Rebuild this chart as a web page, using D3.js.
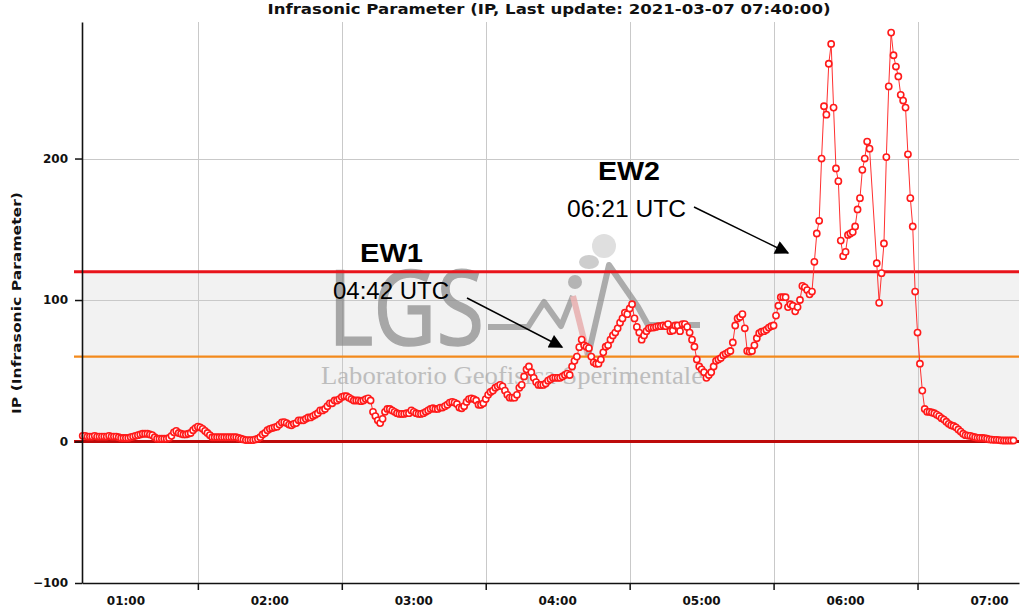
<!DOCTYPE html>
<html><head><meta charset="utf-8">
<script src="https://cdn.jsdelivr.net/npm/d3@7"></script>
<style>body{margin:0;background:#fff} svg{display:block}</style>
</head><body><svg id="c" width="1024" height="607"></svg>
<script>
// ---------------- data ----------------
const chartTitle = "Infrasonic Parameter (IP, Last update: 2021-03-07 07:40:00)";
const yAxisTitle = "IP (Infrasonic Parameter)";
const firstSample = "2021-03-07T01:12:00Z";   // one sample per minute
const sampleStepMinutes = 1;
const ipValues = [
  4,4,3.5,3.5,3.5,4,3.5,3.5,
  3.5,3.5,3.5,4,3.5,3.5,3.5,3,2.5,2.5,
  2.5,2.5,3,3.5,4,4.5,5,5.5,5.5,5.5,
  5,4.5,3,2,2,2,2,2,2.5,4,
  6.5,7.5,6,5.5,5,5,5.5,6,8,9.5,
  10.5,10,9,7.5,6,4.5,3,3,3,3,
  3,3,3,3,3,3,3,2.5,2,1.5,
  1,1,1,1,1.5,2,3,5,6,8,
  9,9.5,10,10.5,12,13.5,13.7,13,12,11.5,
  12.5,13,15,15,15,16,17,17,18,19,
  20,22,22,23,25,27,27,29,29,30,
  31.5,32,32,31,30,29,29,29,28.5,29,
  30,30.5,29,21,18,15,13,16,21,23,
  23,22,21,20,19.5,19.5,19.5,20,20,22,
  21,20,19.5,19.5,20,21,22,23,23.5,23,
  23,24,24,25,26,27.5,28,27.5,26.5,24,
  23.5,25,28,30,30.5,30,29,26,26,27,
  30,33,35,36,38,39,40,39,36,33,
  31,31,31,33,38,40,46,51,53,49,
  45,42,40,40,40,41,43,44,45,45,
  45,45,46,47,48,47,53,57,60,66.7,
  72,68,67,66,60,56,55,55,58,63,
  67,68,72,75,77,80,84,87,91,90,
  94,97,87,81,77,72,75,78,80,80.5,
  80.5,81,81.5,81.5,82,81.5,83,78,78.5,82,
  82,78,83,83,81,77,72,67,58,53,
  51,49,45,47,49,53,57,58,59,61,
  62,63,64,70,82,87,88,90,80,64,
  63.5,64,68,73,76.5,77.6,78,79,80.5,81.5,
  82,89,96,102,102,102,95,97,96,92,
  95,100,110,109,107,104,106,127,147,156,
  200,237,231,267,281,236,193,184,142,131,
  134,146,147,148,152,164,172,192,200,212,
  207,null,null,126,98,119,140,201,251,289,
  273,265,258,245,241,236,203,172,152,106,
  77,55,36,23,21,21,20.5,20,19,18,
  16.5,15.5,14,12.5,11.5,11,10,8.5,7,5.5,
  4.5,4.2,4,3.5,3,2.6,2.6,2.5,2.3,2,
  1.5,1.3,1.2,1.2,1,0.8,0.7,0.7,0.7,0.7,
  0.7
];
const xDomain = ["2021-03-07T01:11:42Z", "2021-03-07T07:42:18Z"];
const yDomain = [-100, 296.5];
const yTickValues = [-100, 0, 100, 200];
const gridYValues = [100, 200];
const hourGridTimes = ["02:00","03:00","04:00","05:00","06:00","07:00"];
const hourLabels = ["01:00","02:00","03:00","04:00","05:00","06:00","07:00"];
const levelLow = 0, levelYellow = 60, levelRed = 120;
const eventNames = ["EW1", "EW2"];
const eventTimes = ["04:42 UTC", "06:21 UTC"];
const watermarkMain = "LGS";
const watermarkSub = "Laboratorio Geofisica Sperimentale";

// ---------------- drawing ----------------
const svg = d3.select("#c");
const day = "2021-03-07T";
const x = d3.scaleUtc().domain(xDomain.map(s => new Date(s))).range([82, 1019]);
const y = d3.scaleLinear().domain(yDomain).range([583, 22]);
const t0 = new Date(firstSample);
const data = ipValues.map((v, i) => ({t: new Date(+t0 + i * sampleStepMinutes * 60000), v}));
const defined = data.filter(d => d.v !== null);

// background band between 0 and 120
svg.append("rect").attr("x", x.range()[0]).attr("width", x.range()[1] - x.range()[0])
  .attr("y", y(levelRed)).attr("height", y(levelLow) - y(levelRed)).attr("fill", "#f2f2f2");

// grid
const grid = svg.append("g").attr("stroke", "#c9c9c9").attr("stroke-width", 1);
hourGridTimes.forEach(h => {
  const xx = Math.round(x(new Date(day + h + ":00Z"))) + 0.5;
  grid.append("line").attr("x1", xx).attr("x2", xx).attr("y1", y.range()[1]).attr("y2", y.range()[0]);
});
gridYValues.forEach(v => {
  const yy = Math.round(y(v)) + 0.5;
  grid.append("line").attr("x1", x.range()[0]).attr("x2", x.range()[1]).attr("y1", yy).attr("y2", yy);
});

// watermark
const wm = svg.append("g").attr("opacity", 0.7);
wm.append("text").attr("x", 328).attr("y", 345).text(watermarkMain)
  .attr("font-family", "'Open Sans', Lato, sans-serif").attr("font-weight", 400)
  .attr("font-size", 104).attr("fill", "#888").attr("stroke", "#888").attr("stroke-width", 1.5)
  .attr("textLength", 156).attr("lengthAdjust", "spacingAndGlyphs");
wm.append("circle").attr("cx", 604).attr("cy", 246).attr("r", 12).attr("fill", "#d2d2d2");
wm.append("ellipse").attr("cx", 589).attr("cy", 262).attr("rx", 10).attr("ry", 7).attr("fill", "#b8b8b8");
wm.append("circle").attr("cx", 575).attr("cy", 282).attr("r", 7).attr("fill", "#9a9a9a");
wm.append("path").attr("d", "M488,327 L528,327 L544,302 L561,326 L573,296")
  .attr("fill", "none").attr("stroke", "#8e8e8e").attr("stroke-width", 6).attr("stroke-linejoin", "round");
wm.append("path").attr("d", "M573,296 L588,356")
  .attr("fill", "none").attr("stroke", "#e6a0a0").attr("stroke-width", 6);
wm.append("path").attr("d", "M588,356 L609,265 L638,307 L648,325 L700,325")
  .attr("fill", "none").attr("stroke", "#8e8e8e").attr("stroke-width", 6).attr("stroke-linejoin", "round");
wm.append("text").attr("x", 321).attr("y", 384).text(watermarkSub)
  .attr("font-family", "'Liberation Serif', 'DejaVu Serif', serif").attr("font-size", 25)
  .attr("fill", "#a8a8a8").attr("textLength", 382).attr("lengthAdjust", "spacingAndGlyphs");

// threshold lines
const lvl = [[levelRed, "#e8141b", 2.8], [levelYellow, "#f38a1c", 2.4], [levelLow, "#bd0a0a", 3]];
lvl.forEach(([v, c, w]) => {
  svg.append("line").attr("x1", 74).attr("x2", x.range()[1]).attr("y1", y(v)).attr("y2", y(v))
    .attr("stroke", c).attr("stroke-width", w);
});

// series
svg.append("path").datum(defined)
  .attr("d", d3.line().x(d => x(d.t)).y(d => y(d.v)))
  .attr("fill", "none").attr("stroke", "#ff3030").attr("stroke-width", 1);
svg.append("g").selectAll("circle").data(defined).join("circle")
  .attr("cx", d => x(d.t)).attr("cy", d => y(d.v)).attr("r", 3.1)
  .attr("fill", "#fff").attr("stroke", "#ff1a1a").attr("stroke-width", 1.6);

// axes
const axFont = "'DejaVu Sans', Verdana, sans-serif";
const yAxis = svg.append("g").attr("transform", `translate(${x.range()[0]},0)`)
  .call(d3.axisLeft(y).tickValues(yTickValues).tickSize(7).tickSizeOuter(0).tickPadding(7));
yAxis.select(".domain").attr("stroke", "#111").attr("stroke-width", 1.6);
yAxis.selectAll(".tick line").attr("stroke", "#111").attr("stroke-width", 1.5);
yAxis.selectAll(".tick text").attr("font-family", axFont).attr("font-weight", "bold")
  .attr("font-size", 12).attr("fill", "#111");

const xAxis = svg.append("g").attr("transform", `translate(0,${y.range()[0]})`)
  .call(d3.axisBottom(x).tickValues(hourGridTimes.map(h => new Date(day + h + ":00Z")))
    .tickSize(7).tickSizeOuter(0).tickFormat(""));
xAxis.select(".domain").attr("stroke", "#111").attr("stroke-width", 1.6);
xAxis.selectAll(".tick line").attr("stroke", "#111").attr("stroke-width", 1.5);
hourLabels.forEach(h => {
  const mid = new Date(+new Date(day + h + ":00Z") + 30 * 60000);
  svg.append("text").attr("x", x(mid)).attr("y", 605).attr("text-anchor", "middle")
    .attr("font-family", axFont).attr("font-weight", "bold").attr("font-size", 12)
    .attr("fill", "#111").text(h);
});

// titles
svg.append("text").attr("x", 549).attr("y", 14).attr("text-anchor", "middle")
  .attr("font-family", axFont).attr("font-weight", "bold").attr("font-size", 14)
  .attr("fill", "#111").attr("textLength", 563).attr("lengthAdjust", "spacingAndGlyphs").text(chartTitle);
svg.append("text").attr("transform", "translate(21,303) rotate(-90)").attr("text-anchor", "middle")
  .attr("font-family", axFont).attr("font-weight", "bold").attr("font-size", 13)
  .attr("fill", "#111").attr("textLength", 222).attr("lengthAdjust", "spacingAndGlyphs").text(yAxisTitle);

// annotations
const defs = svg.append("defs");
defs.append("marker").attr("id", "ah").attr("viewBox", "0 0 10 10").attr("refX", 9).attr("refY", 5)
  .attr("markerWidth", 16).attr("markerHeight", 14).attr("markerUnits", "userSpaceOnUse")
  .attr("orient", "auto").append("path").attr("d", "M0,0 L10,5 L0,10 Z").attr("fill", "#000");
const annFont = "'Liberation Sans', Arial, sans-serif";
const ann = [
  {nx: 360, ny: 262, nw: 63, tx: 333, ty: 299, tw: 116, a: [467, 298, 562, 347]},
  {nx: 598, ny: 180, nw: 62, tx: 567, ty: 217, tw: 119, a: [694, 207, 788, 253]}
];
ann.forEach((p, i) => {
  svg.append("text").attr("x", p.nx).attr("y", p.ny).attr("font-family", annFont).attr("font-weight", "bold")
    .attr("font-size", 25).attr("fill", "#000").attr("textLength", p.nw).attr("lengthAdjust", "spacingAndGlyphs")
    .text(eventNames[i]);
  svg.append("text").attr("x", p.tx).attr("y", p.ty).attr("font-family", annFont)
    .attr("font-size", 23).attr("fill", "#000").attr("textLength", p.tw).attr("lengthAdjust", "spacingAndGlyphs")
    .text(eventTimes[i]);
  svg.append("line").attr("x1", p.a[0]).attr("y1", p.a[1]).attr("x2", p.a[2]).attr("y2", p.a[3])
    .attr("stroke", "#000").attr("stroke-width", 1.5).attr("marker-end", "url(#ah)");
});
</script></body></html>
